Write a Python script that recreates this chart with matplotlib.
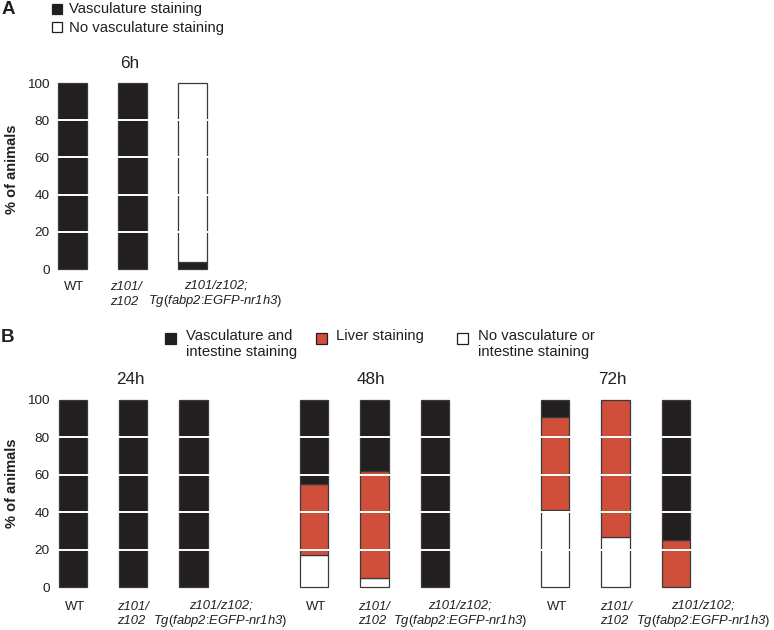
import matplotlib
matplotlib.use('Agg')
import numpy as np
import matplotlib.pyplot as plt
from matplotlib.patches import Rectangle
from matplotlib.offsetbox import TextArea, VPacker, AnnotationBbox

plt.rcParams['font.family'] = ['Liberation Sans', 'DejaVu Sans']
plt.rcParams['mathtext.fontset'] = 'custom'
plt.rcParams['mathtext.rm'] = 'Liberation Sans:italic'
plt.rcParams['mathtext.it'] = 'Liberation Sans:italic'
plt.rcParams['mathtext.bf'] = 'Liberation Sans:bold'

W, H = 774, 630
DARK = '#231f20'
RED = '#cf4f3b'
WHITE = '#ffffff'
EDGE = '#3a3a3a'

# ---------------- data ----------------
yticks = [0, 20, 40, 60, 80, 100]
grid_levels = [20, 40, 60, 80]

# Panel A (6h)
a_title = '6h'
a_vasc = [100, 100, 4]
a_none = [0, 0, 96]
a_legend = ['Vasculature staining', 'No vasculature staining']

# Panel B (24h, 48h, 72h), per genotype: WT, z101/z102, z101/z102;Tg
b_times = ['24h', '48h', '72h']
b_none = [[0, 0, 0], [17, 5, 0], [41, 27, 0]]
b_liver = [[0, 0, 0], [38, 57, 0], [50, 73, 25]]
b_vasc = [[100, 100, 100], [45, 38, 100], [9, 0, 75]]
b_legend = ['Vasculature and\nintestine staining', 'Liver staining',
            'No vasculature or\nintestine staining']

# genotype labels
wt_label = 'WT'
mut_label = 'z101/\nz102'
tg_line1 = 'z101/z102;'
tg_line2 = r'$\mathit{Tg}$($\mathit{fabp2}$:$\mathit{EGFP}$-$\mathit{nr1h3}$)'

# ---------------- figure ----------------
fig = plt.figure(figsize=(W / 100, H / 100), dpi=100)


def ax_px(left, top, right, bottom):
    return fig.add_axes([left / W, 1 - bottom / H, (right - left) / W, (bottom - top) / H])


axA = ax_px(53, 83, 53 + 2.925 * 60, 269)
axA.set_xlim(-0.325, 2.6)
axB = ax_px(53, 400, 53 + 10.93 * 60.3, 587)
axB.set_xlim(-0.33, 10.6)

BW = 0.47


def stack(ax, pos, heights, bottoms, color):
    pos = np.asarray(pos, float)
    h = np.asarray(heights, float)
    b = np.asarray(bottoms, float)
    m = h > 0
    ax.bar(pos[m], h[m], bottom=b[m], width=BW, color=color, edgecolor=EDGE,
           linewidth=0.9, clip_on=False, zorder=2)


for ax in (axA, axB):
    ax.set_ylim(0, 100)
    ax.set_yticks(yticks)
    ax.set_xticks([])
    ax.tick_params(axis='y', length=0, pad=2.5, labelsize=9.7, labelcolor=DARK)
    for s in ax.spines.values():
        s.set_visible(False)
    for g in grid_levels:
        ax.axhline(g, color='white', lw=1.4, zorder=4)

# Panel A bars
posA = [0, 1, 2]
stack(axA, posA, a_vasc, [0, 0, 0], DARK)
stack(axA, posA, a_none, a_vasc, WHITE)

# Panel B bars
group_pos = []
for gi in range(3):
    pos = [gi * 4 + k for k in range(3)]
    group_pos.append(pos)
    none = np.array(b_none[gi], float)
    liver = np.array(b_liver[gi], float)
    vasc = np.array(b_vasc[gi], float)
    stack(axB, pos, none, np.zeros(3), WHITE)
    stack(axB, pos, liver, none, RED)
    stack(axB, pos, vasc, none + liver, DARK)

PT = 0.72  # points per pixel


def title(ax, x, text, dy):
    ax.annotate(text, xy=(x, 1), xycoords=('data', 'axes fraction'),
                xytext=(-3 * PT, dy * PT), textcoords='offset points',
                ha='center', va='center', fontsize=12.3, color=DARK)


title(axA, 1, a_title, 20)
for gi, t in enumerate(b_times):
    title(axB, group_pos[gi][1], t, 21)


def place(ax, box, x, dx, dy, align):
    ab = AnnotationBbox(box, (x, 0), xycoords=('data', 'axes fraction'),
                        xybox=(dx * PT, dy * PT), boxcoords='offset points',
                        box_alignment=align, frameon=False, pad=0)
    ax.add_artist(ab)


FS = 9.4


def genotype_labels(ax, pos, mut_dx, tg_dx, dy):
    tp = dict(fontsize=FS, color=DARK)
    place(ax, TextArea(wt_label, textprops=tp), pos[0], 2, dy, (0.5, 1))
    place(ax, TextArea(mut_label, textprops=dict(tp, fontstyle='italic', linespacing=1.3)),
          pos[1], mut_dx, dy, (0, 1))
    l1 = TextArea(tg_line1, textprops=dict(tp, fontstyle='italic'))
    l2 = TextArea(tg_line2, textprops=tp)
    box = VPacker(children=[l1, l2], pad=0, sep=1, align='center')
    place(ax, box, pos[2], tg_dx, dy + 1, (0.5, 1))


genotype_labels(axA, posA, -22, 23, -12)
tg_dx_b = [27, 25, 27]
for gi in range(3):
    genotype_labels(axB, group_pos[gi], -16, tg_dx_b[gi], -13.5)

# y labels
fig.text(12 / W, 1 - 169 / H, '% of animals', rotation=90, fontweight='bold',
         fontsize=10.5, ha='center', va='center', color=DARK)
fig.text(12 / W, 1 - 483 / H, '% of animals', rotation=90, fontweight='bold',
         fontsize=10.5, ha='center', va='center', color=DARK)

# panel letters
fig.text(2 / W, 1 - 10 / H, 'A', fontsize=13.5, fontweight='bold', ha='left', va='center', color=DARK)
fig.text(1 / W, 1 - 338 / H, 'B', fontsize=13.5, fontweight='bold', ha='left', va='center', color=DARK)


def legend_square(x, top, s, fc):
    fig.add_artist(Rectangle((x / W, 1 - (top + s) / H), s / W, s / H,
                             transform=fig.transFigure, facecolor=fc,
                             edgecolor=DARK, linewidth=0.9))


LFS = 10.7
# Legend A
legend_square(52, 4, 10, DARK)
fig.text(69 / W, 1 - 9 / H, a_legend[0], fontsize=LFS, ha='left', va='center', color=DARK)
legend_square(52, 22, 10, WHITE)
fig.text(69 / W, 1 - 28 / H, a_legend[1], fontsize=LFS, ha='left', va='center', color=DARK)

# Legend B
b_leg_sq_x = [165, 316, 457]
b_leg_tx_x = [186, 336, 478]
b_leg_col = [DARK, RED, WHITE]
for lab, sx, tx, c in zip(b_legend, b_leg_sq_x, b_leg_tx_x, b_leg_col):
    legend_square(sx, 333, 11, c)
    fig.text(tx / W, 1 - 329 / H, lab, fontsize=LFS, ha='left', va='top',
             color=DARK, linespacing=1.2)

fig.savefig('out.png', dpi=100)
